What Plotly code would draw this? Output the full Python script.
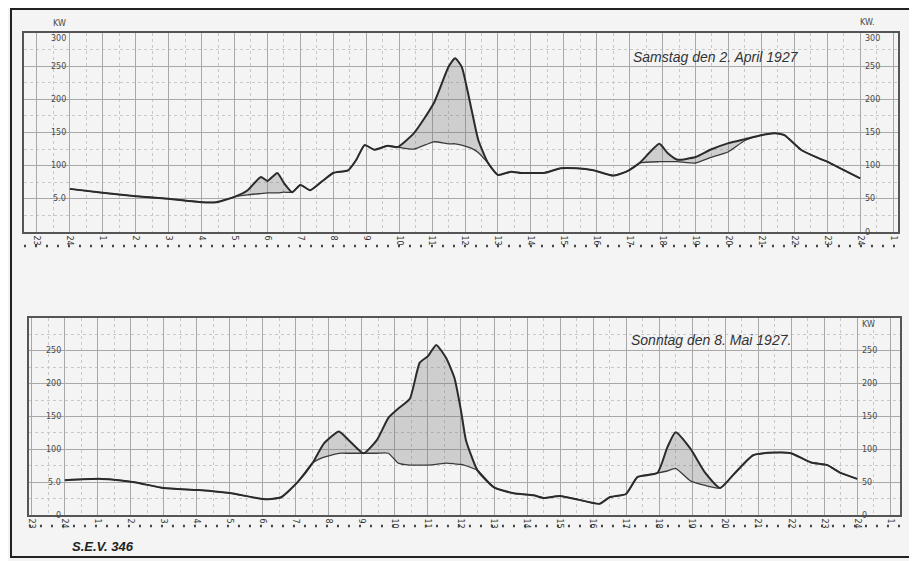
import plotly.graph_objects as go

# ---------------- data ----------------
hours_sat = [0, 1, 2, 3, 4, 4.45, 5, 5.4, 5.8, 6.0, 6.3, 6.5, 6.75, 7.0, 7.3, 7.7, 8.0, 8.45, 8.7,
             8.95, 9.25, 9.65, 9.95, 10.45, 11.05, 11.5, 11.7, 11.9, 12.2, 12.4, 12.7, 13.0, 13.4,
             13.7, 14.0, 14.4, 14.9, 15.4, 15.9, 16.5, 16.9, 17.3, 17.9, 18.15, 18.45, 19.0, 19.45,
             20.0, 20.5, 21.0, 21.4, 21.7, 22.2, 22.7, 23.0, 23.4, 24.0]
load_sat = [65, 59, 54, 50, 45, 45, 53, 63, 83, 77, 89, 74, 60, 71, 63, 78, 89, 93, 109,
            131, 124, 130, 128, 149, 194, 249, 262, 249, 184, 139, 104, 86, 91,
            89, 89, 89, 96, 96, 93, 85, 91, 104, 133, 119, 109, 113, 124,
            134, 140, 146, 149, 146, 124, 112, 106, 96, 81]
base_sat = [65, 59, 54, 50, 45, 45, 53, 56, 58, 59, 59, 60, 60, 71, 63, 78, 89, 93, 109,
            131, 124, 130, 128, 125, 136, 133, 133, 131, 126, 120, 104, 86, 91,
            89, 89, 89, 96, 96, 93, 85, 91, 104, 106, 106, 106, 104, 112,
            121, 138, 146, 149, 146, 124, 112, 106, 96, 81]

hours_sun = [0, 1.1, 2.1, 3.0, 4.05, 5.05, 6.05, 6.55, 7.05, 7.5, 7.85, 8.3, 8.6, 9.05, 9.45, 9.8,
             10.1, 10.45, 10.75, 11.0, 11.25, 11.55, 11.8, 12.0, 12.15, 12.5, 13.0, 13.6, 14.2,
             14.5, 15.0, 15.5, 16.2, 16.5, 17.0, 17.35, 17.95, 18.25, 18.5, 18.95, 19.4, 19.85,
             20.3, 20.85, 21.5, 22.0, 22.6, 23.1, 23.5, 24.0]
load_sun = [53, 55, 50, 41, 38, 33, 24, 27, 50, 79, 109, 127, 114, 94, 114, 148,
            162, 177, 232, 242, 259, 239, 209, 159, 114, 68, 42, 33, 30,
            26, 29, 24, 17, 27, 32, 58, 64, 103, 126, 101, 64, 41,
            64, 91, 95, 94, 80, 76, 64, 55]
base_sun = [53, 55, 50, 41, 38, 33, 24, 27, 50, 79, 88, 94, 94, 94, 94, 94,
            79, 76, 76, 76, 77, 79, 78, 77, 75, 68, 42, 33, 30,
            26, 29, 24, 17, 27, 32, 58, 64, 67, 71, 52, 45, 41,
            64, 91, 95, 94, 80, 76, 64, 55]

hour_ticks = list(range(-1, 26))
hour_labels = ["23", "24"] + [str(i) for i in range(1, 24)] + ["24", "1"]
kw_ticks = [0, 50, 100, 150, 200, 250, 300]
kw_left_labels = ["0", "5.0", "100", "150", "200", "250", "300"]

title_sat = "Samstag den 2. April 1927"
title_sun = "Sonntag den 8. Mai 1927."
ref_text = "S.E.V. 346"

# ---------------- figure ----------------
# the page body adds an 8px margin, so the figure is made 8px smaller and
# every page position below is shifted by OFF
OFF = 8
W, H = 917 - OFF, 561 - OFF
LINE = "#2b2b2b"
FILL = "rgba(120,120,120,0.30)"

fig = go.Figure()

def add_panel(hours, load, base, xa, ya):
    fig.add_trace(go.Scatter(x=hours, y=base, mode="lines", xaxis=xa, yaxis=ya,
                             line=dict(color="#3a3a3a", width=1.3, shape="spline", smoothing=0.5),
                             showlegend=False, hoverinfo="skip"))
    fig.add_trace(go.Scatter(x=hours, y=load, mode="lines", xaxis=xa, yaxis=ya,
                             fill="tonexty", fillcolor=FILL,
                             line=dict(color=LINE, width=2.0, shape="spline", smoothing=0.5),
                             showlegend=False))

add_panel(hours_sat, load_sat, base_sat, "x", "y")
add_panel(hours_sun, load_sun, base_sun, "x2", "y2")

def px(x):
    return (x - OFF) / W

def py(y):
    return 1 - (y - OFF) / H

xcommon = dict(tickmode="array", tickvals=hour_ticks, ticktext=hour_labels, tickangle=90,
               tickfont=dict(family="DejaVu Sans", size=8, color="#333"),
               showgrid=True, gridcolor="#a8a8a8", gridwidth=0.8,
               minor=dict(dtick=0.5, showgrid=True, gridcolor="#c8c8c8", griddash="dot", gridwidth=0.8),
               showline=True, mirror=True, linecolor="#555", linewidth=1.6,
               zeroline=False, ticks="", fixedrange=True)
ycommon = dict(range=[0, 300], tickmode="array", tickvals=kw_ticks, showticklabels=False,
               showgrid=True, gridcolor="#a8a8a8", gridwidth=0.8,
               minor=dict(dtick=25, showgrid=True, gridcolor="#c8c8c8", griddash="dot", gridwidth=0.8),
               showline=True, mirror=True, linecolor="#555", linewidth=1.6,
               zeroline=False, ticks="", fixedrange=True)

fig.update_layout(
    width=W, height=H, autosize=False,
    margin=dict(l=0, r=0, t=0, b=0),
    paper_bgcolor="#f4f4f4", plot_bgcolor="#f4f4f4",
    xaxis=dict(xcommon, domain=[px(22), px(898)], range=[-1.394, 25.15], anchor="y"),
    yaxis=dict(ycommon, domain=[py(232), py(33)], anchor="x"),
    xaxis2=dict(xcommon, domain=[px(27), px(900)], range=[-1.088, 25.30], anchor="y2"),
    yaxis2=dict(ycommon, domain=[py(515), py(318)], anchor="x2"),
)

ann = []
lab_font = dict(family="DejaVu Sans", size=8, color="#4a4a4a")
for xa, ya, show_left, right_vals in (("x", "y", [50, 100, 150, 200, 250, 300], [0, 50, 100, 150, 200, 250, 300]),
                                      ("x2", "y2", [0, 50, 100, 150, 200, 250], [0, 50, 100, 150, 200, 250])):
    for v, t in zip(kw_ticks, kw_left_labels):
        if v in show_left:
            ann.append(dict(x=-0.05, y=v, xref=xa, yref=ya, text=t, yshift=-5 if v == 300 else 0,
                            xanchor="right", yanchor="middle", showarrow=False, font=lab_font))
    for v in right_vals:
        ann.append(dict(x=24.08, y=v, xref=xa, yref=ya, text=str(v), xanchor="left",
                        yshift=-5 if v == 300 else 0,
                        yanchor="middle", showarrow=False, font=lab_font))
ann.append(dict(x=px(58), y=py(24), xref="paper", yref="paper", text="KW", xanchor="center",
                yanchor="middle", showarrow=False, font=lab_font))
ann.append(dict(x=px(867), y=py(22), xref="paper", yref="paper", text="KW.", xanchor="center",
                yanchor="middle", showarrow=False, font=lab_font))
ann.append(dict(x=24.08, y=290, xref="x2", yref="y2", text="KW", xanchor="left", showarrow=False, font=lab_font))

title_font = dict(family="Liberation Sans", size=14, color="#333")
ann.append(dict(x=px(716), y=py(57), xref="paper", yref="paper", text="<i>" + title_sat + "</i>",
                showarrow=False, font=title_font, xanchor="center", yanchor="middle"))
ann.append(dict(x=px(711), y=py(340), xref="paper", yref="paper", text="<i>" + title_sun + "</i>",
                showarrow=False, font=title_font, xanchor="center", yanchor="middle"))
ann.append(dict(x=px(68), y=py(546), xref="paper", yref="paper", text="<b><i>" + ref_text + "</i></b>",
                showarrow=False, font=dict(family="Liberation Sans", size=13, color="#222"),
                xanchor="left", yanchor="middle"))
fig.update_layout(annotations=ann)

shapes = [
    # outer frame
    dict(type="rect", xref="paper", yref="paper", x0=px(9), x1=px(910), y0=py(557), y1=py(9),
         line=dict(color="#222", width=2)),
    # dotted rows under the hour labels
    dict(type="line", xref="paper", yref="paper", x0=px(22), x1=px(900), y0=py(246), y1=py(246),
         line=dict(color="#444", width=2.5, dash="2px,9px")),
    dict(type="line", xref="paper", yref="paper", x0=px(27), x1=px(902), y0=py(526), y1=py(526),
         line=dict(color="#444", width=2.5, dash="2px,9px")),
]
fig.update_layout(shapes=shapes)

fig.write_html("out.html")
